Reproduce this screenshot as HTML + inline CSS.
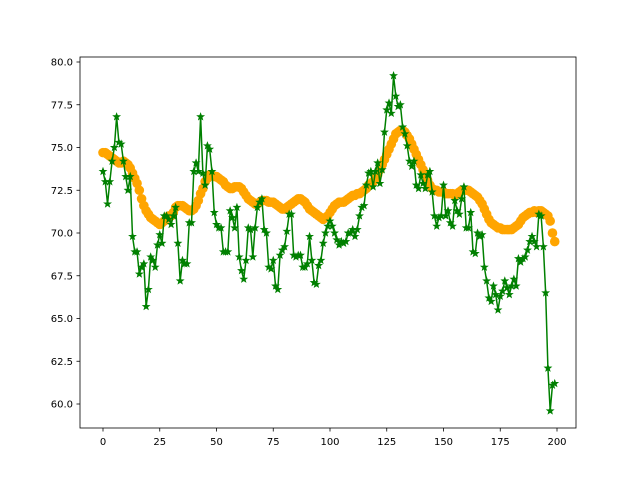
<!DOCTYPE html>
<html><head><meta charset="utf-8"><style>body{margin:0;background:#fff}svg{display:block;font-family:"DejaVu Sans","Liberation Sans",sans-serif}</style></head>
<body>
<svg id="chart" width="640" height="480" viewBox="0 0 640 480">
<rect x="0" y="0" width="640" height="480" fill="#fff"/>
<g id="plot"></g>
<rect x="80" y="57" width="496" height="371" fill="none" stroke="#000" stroke-width="0.8"/>
<g id="xt"></g><g id="yt"></g>
</svg>
<script>
const smoothValues=[74.7,74.7,74.6,74.5,74.4,74.3,74.2,74.1,74.1,74.2,74.1,74.0,73.8,73.5,73.2,72.9,72.5,72.0,71.6,71.3,71.1,70.9,70.8,70.7,70.6,70.5,70.6,70.7,70.9,71.0,71.0,71.2,71.5,71.6,71.6,71.6,71.5,71.4,71.3,71.3,71.4,71.6,71.9,72.3,72.6,73.0,73.2,73.4,73.4,73.3,73.3,73.2,73.1,73.0,72.8,72.7,72.6,72.6,72.7,72.7,72.7,72.6,72.4,72.2,72.0,71.9,71.8,71.7,71.7,71.8,71.9,71.9,71.9,71.8,71.8,71.8,71.7,71.6,71.5,71.4,71.4,71.5,71.6,71.7,71.8,71.9,72.0,72.0,71.9,71.8,71.6,71.4,71.3,71.2,71.1,71.0,70.9,70.8,70.9,71.0,71.2,71.4,71.6,71.7,71.8,71.8,71.8,71.9,72.0,72.1,72.2,72.2,72.3,72.3,72.4,72.5,72.6,72.8,72.9,73.0,73.2,73.4,73.7,74.0,74.3,74.6,74.9,75.2,75.5,75.8,75.9,76.0,76.0,75.9,75.7,75.5,75.2,74.9,74.6,74.3,74.0,73.7,73.4,73.1,72.8,72.6,72.5,72.5,72.4,72.4,72.4,72.3,72.3,72.3,72.3,72.2,72.3,72.4,72.5,72.5,72.5,72.5,72.4,72.3,72.2,72.1,71.9,71.7,71.4,71.1,70.8,70.6,70.5,70.4,70.3,70.3,70.2,70.2,70.2,70.2,70.2,70.3,70.4,70.5,70.7,70.9,71.0,71.1,71.2,71.2,71.3,71.2,71.3,71.3,71.2,71.1,71.0,70.7,70.0,69.5];
const rawValues=[73.6,73.0,71.7,73.0,74.2,75.0,76.8,75.3,75.2,74.2,73.3,72.5,73.3,69.8,68.9,68.9,67.6,68.0,68.2,65.7,66.7,68.6,68.4,68.0,69.3,69.9,69.4,71.0,71.0,70.8,70.5,71.0,71.5,69.4,67.2,68.4,68.2,68.2,70.6,70.6,73.6,74.1,73.6,76.8,73.5,72.8,75.1,74.9,73.6,71.2,70.5,70.3,70.3,68.9,68.9,68.9,71.3,70.9,70.3,71.5,68.6,67.8,67.3,68.4,70.3,70.2,68.6,70.3,71.5,71.8,72.0,70.2,70.0,68.0,67.9,68.4,66.9,66.7,68.7,69.0,69.2,70.1,71.1,71.1,68.7,68.6,68.7,68.7,68.0,68.0,68.2,69.8,68.4,67.1,67.0,68.1,68.4,69.4,70.0,70.4,70.7,70.4,70.0,69.6,69.3,69.5,69.4,69.5,70.0,70.0,70.2,69.8,70.2,71.0,71.5,71.6,72.8,73.5,73.6,72.7,73.6,74.1,72.9,73.7,75.9,77.2,77.6,77.0,79.2,78.0,77.4,77.5,76.2,75.8,75.1,74.2,73.9,74.2,72.8,72.6,73.4,72.9,72.6,73.4,73.6,72.4,71.0,70.4,70.9,71.0,72.8,71.0,71.3,70.6,70.4,71.9,71.3,71.1,72.0,72.7,70.3,70.3,71.2,68.9,68.8,70.0,69.8,69.9,68.0,67.2,66.2,66.0,66.9,66.4,65.5,66.3,66.6,67.2,66.8,66.4,66.9,67.3,66.9,68.5,68.3,68.5,68.6,69.0,69.5,69.8,69.5,69.2,71.1,71.0,69.2,66.5,62.1,59.6,61.1,61.2];
const xTicks=[0,25,50,75,100,125,150,175,200];
const yTicks=[60.0,62.5,65.0,67.5,70.0,72.5,75.0,77.5,80.0];
const NS="http://www.w3.org/2000/svg";
function xs(v){return 103+v*(454/200);}
function ys(v){return 404-(v-60)*(342/20);}
const plot=document.getElementById('plot');
function mk(t,a,p){const e=document.createElementNS(NS,t);for(const k in a)e.setAttribute(k,a[k]);p.appendChild(e);return e;}
smoothValues.forEach((v,i)=>{const c=mk('circle',{cx:xs(i),cy:ys(v),r:4.8,fill:'#ffa500'},plot);

});
const pl=mk('polyline',{points:rawValues.map((v,i)=>xs(i)+','+ys(v)).join(' '),fill:'none',stroke:'#008000','stroke-width':1.5},plot);


function star(cx,cy,r){let p=[];for(let k=0;k<10;k++){const a=-Math.PI/2+k*Math.PI/5;const rr=k%2?r*0.42:r;p.push((cx+rr*Math.cos(a)).toFixed(2)+','+(cy+rr*Math.sin(a)).toFixed(2));}return p.join(' ');}
rawValues.forEach((v,i)=>{const s=mk('polygon',{points:star(xs(i),ys(v),3.8),fill:'#008000',stroke:'#008000','stroke-width':0.6},plot);

});
const xt=document.getElementById('xt');
xTicks.forEach(t=>{const x=xs(t);mk('line',{x1:x,x2:x,y1:428,y2:431.5,stroke:'#000','stroke-width':0.8},xt);
const tx=mk('text',{x:x,y:445,'font-size':10,'text-anchor':'middle',fill:'#000'},xt);tx.textContent=t;

});
const yt=document.getElementById('yt');
yTicks.forEach(t=>{const y=ys(t);mk('line',{x1:76.5,x2:80,y1:y,y2:y,stroke:'#000','stroke-width':0.8},yt);
const tx=mk('text',{x:73,y:y+3.6,'font-size':10,'text-anchor':'end',fill:'#000'},yt);tx.textContent=t.toFixed(1);

});
</script>
</body></html>
